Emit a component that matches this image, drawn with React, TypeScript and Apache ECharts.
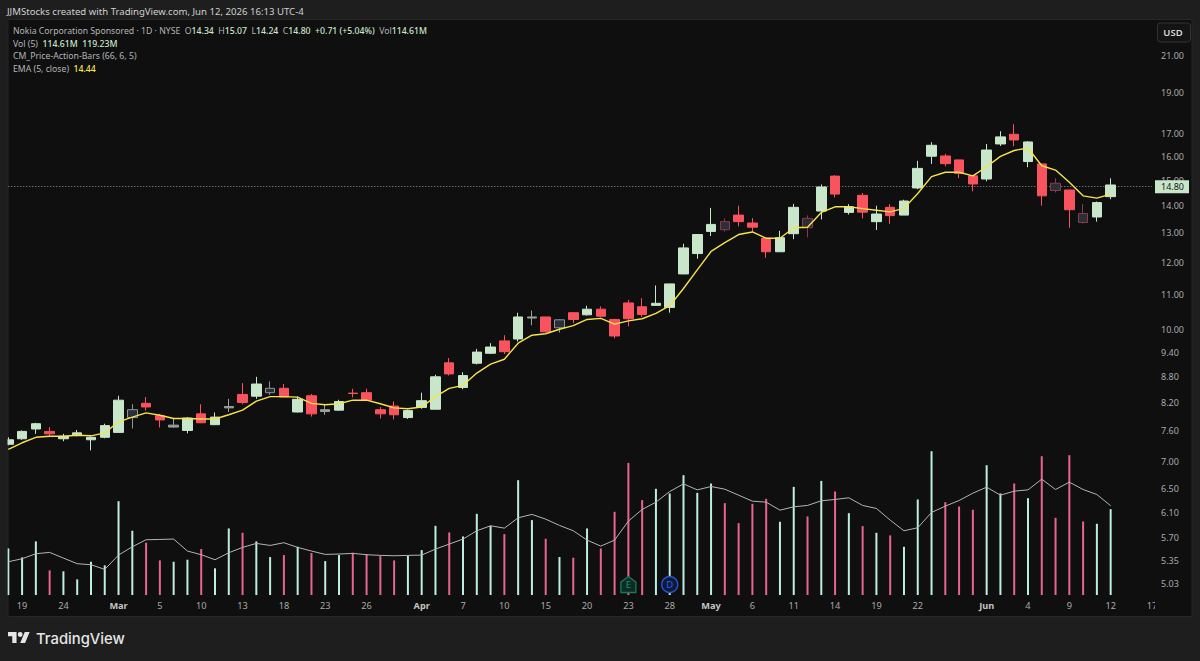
import React, { useEffect, useRef } from "react";
import * as echarts from "echarts";

const dates = [
  "02-18","02-19","02-20","02-23","02-24","02-25","02-26","02-27","03-02","03-03","03-04","03-05","03-06","03-09","03-10","03-11","03-12","03-13","03-16","03-17","03-18","03-19","03-20","03-23","03-24","03-25","03-26","03-27","03-30","03-31",
  "04-01","04-02","04-06","04-07","04-08","04-09","04-10","04-13","04-14","04-15","04-16","04-17","04-20","04-21","04-22","04-23","04-24","04-27","04-28","04-29","04-30",
  "05-01","05-04","05-05","05-06","05-07","05-08","05-11","05-12","05-13","05-14","05-15","05-18","05-19","05-20","05-21","05-22","05-26","05-27","05-28","05-29",
  "06-01","06-02","06-03","06-04","06-05","06-08","06-09","06-10","06-11","06-12","06-15","06-16","06-17",
];
const xTicks: Record<string, string> = {
  "02-19":"19","02-24":"24","03-02":"Mar","03-05":"5","03-10":"10","03-13":"13","03-18":"18","03-23":"23","03-26":"26",
  "04-01":"Apr","04-07":"7","04-10":"10","04-15":"15","04-20":"20","04-23":"23","04-28":"28",
  "05-01":"May","05-06":"6","05-11":"11","05-14":"14","05-19":"19","05-22":"22",
  "06-01":"Jun","06-04":"4","06-09":"9","06-12":"12","06-17":"17",
};
const monthLabels = ["Mar","Apr","May","Jun"];
const priceTicks = [21,19,17,16,15,14,13,12,11,10,9.4,8.8,8.2,7.6,7,6.5,6.1,5.7,5.35,5.03];

const opens = [7.33,7.44,7.64,7.59,7.44,7.52,7.42,7.47,7.57,7.88,8.19,7.92,7.68,7.61,7.96,7.73,8.09,8.39,8.35,8.43,8.53,8.00,8.36,8.01,8.04,8.42,8.43,8.05,8.13,7.88,8.10,8.06,9.14,8.55,9.13,9.38,9.70,9.75,10.32,10.35,10.05,10.47,10.41,10.57,10.28,10.75,10.64,10.68,10.62,11.63,12.29,13.05,13.40,13.64,13.35,12.81,12.35,12.97,13.52,13.79,15.16,13.74,14.39,13.40,13.93,13.64,14.68,16.00,16.01,15.84,15.17,15.04,16.54,16.98,15.77,15.67,14.87,14.60,13.70,13.57,14.34];
const closes = [7.42,7.59,7.75,7.54,7.49,7.56,7.47,7.71,8.26,8.05,8.11,7.83,7.72,7.87,7.77,7.89,8.12,8.21,8.63,8.53,8.33,8.28,7.96,8.05,8.23,8.41,8.26,7.96,7.94,8.03,8.25,8.80,8.87,8.83,9.41,9.54,9.42,10.35,10.35,9.94,10.27,10.28,10.57,10.37,9.83,10.30,10.42,10.74,11.32,12.48,12.94,13.30,13.11,13.40,13.20,12.35,12.83,13.93,13.18,14.72,14.44,13.95,13.75,13.68,13.62,14.17,15.48,16.48,15.68,15.27,14.84,16.27,16.86,16.72,16.63,14.37,14.58,13.84,13.37,14.11,14.80];
const lows = [7.31,7.42,7.54,7.49,7.39,7.49,7.21,7.45,7.56,7.65,8.03,7.67,7.67,7.55,7.76,7.72,8.00,8.17,8.29,8.38,8.33,7.99,7.90,7.94,8.03,8.32,8.25,7.86,7.84,7.85,8.07,8.06,8.83,8.51,9.10,9.36,9.36,9.68,10.12,9.92,9.92,10.18,10.39,10.34,9.77,10.09,10.35,10.68,10.47,11.62,12.12,12.89,13.04,13.23,13.03,12.15,12.35,12.78,12.84,13.48,14.31,13.66,13.52,13.10,13.32,13.64,14.63,15.67,15.57,15.08,14.55,14.95,16.45,16.44,15.53,13.99,14.50,13.18,13.33,13.40,14.24];
const highs = [7.47,7.61,7.77,7.68,7.54,7.62,7.49,7.75,8.36,8.17,8.33,7.96,7.85,7.89,8.17,7.99,8.29,8.65,8.80,8.69,8.63,8.34,8.40,8.17,8.27,8.52,8.52,8.11,8.23,8.05,8.43,8.85,9.26,8.91,9.49,9.64,9.85,10.47,10.53,10.35,10.29,10.47,10.67,10.65,10.30,10.84,10.89,11.27,11.32,12.62,12.94,13.91,13.52,13.99,13.53,12.84,13.07,14.06,13.63,14.82,15.20,14.05,14.48,13.99,14.05,14.22,15.80,16.62,16.10,15.84,15.17,16.54,17.12,17.45,16.67,15.67,15.07,14.60,14.05,14.15,15.07];
const ema5 = [7.23,7.36,7.47,7.49,7.49,7.51,7.50,7.56,7.79,7.89,7.98,7.93,7.86,7.86,7.85,7.85,7.94,8.04,8.24,8.34,8.34,8.33,8.19,8.16,8.18,8.26,8.26,8.18,8.09,8.07,8.11,8.34,8.53,8.60,8.89,9.11,9.23,9.64,9.85,9.89,10.01,10.11,10.28,10.31,10.15,10.24,10.30,10.45,10.67,11.18,11.76,12.36,12.66,12.94,13.03,12.81,12.81,13.18,13.20,13.74,13.95,13.95,13.88,13.82,13.76,13.89,14.46,15.14,15.32,15.32,15.17,15.55,15.99,16.25,16.36,15.59,15.41,14.91,14.37,14.28,14.44];
const volumes = [62.2,50.2,71.6,32.9,31.6,20.9,44.4,39.6,125.3,85.8,69.8,46.2,44.4,47.1,61.3,35.6,88.9,83.1,71.6,50.7,53.3,64.4,56,45.3,53.3,56.4,54.7,52,46.2,52.4,60,92.4,83.6,78.2,108.4,92.4,81.3,153.3,100,75.1,50.7,49.8,88.9,62.2,111.1,176.4,126.7,141.8,135.6,160,136.4,148.9,122.7,96,121.8,128.4,97.8,144.4,104.9,152.4,138.2,109.3,92,83.1,79.6,64.4,127.6,192,124,118.2,113.8,173.3,135.6,148.9,129.3,185.3,103.1,186.7,98.2,95.1,114.61];
const volumeMA = [44.4,48.4,55.1,56.9,49.3,41.8,40.4,34.2,53.3,64.4,73.8,74.2,74.7,58.7,53.8,47.1,56.4,63.6,68.9,66.2,69.8,63.6,58.7,54.2,54.7,55.6,53.8,52.9,52.4,52.9,53.3,61.3,68,74.7,85.8,92.4,89.3,103.1,107.6,101.3,92.9,85.8,73.3,65.3,73.3,98.7,114.2,124,138.2,148.4,140.4,144.9,141.3,133.3,125.3,124,113.3,117.8,119.6,125.8,127.6,129.8,119.6,115.6,100,85.8,89.8,110.2,118.7,126.2,136,144,133.3,138.7,140.4,154.7,140.9,150.7,140.9,134.2,119.23];
const insideBars = [9,19,40,52,58,76,78];
const greyDoji = [12,16,23,38];
const lastClose = 14.8;
const maxPrice = 23.08;
const minPrice = 4.859;
const maxVolume = 207;

const GREEN = "#c8e6c9";
const RED = "#f9535f";
const VOL_GREEN = "#bdeee2";
const VOL_RED = "#ea6490";
const PANEL = "#0f0f0f";
const FRAME = "#1e1e1e";
const FONT = "'Noto Sans', sans-serif";
const LEGEND_SIZE = 8.7;

const LogoPath = "M14 22H7V11H0V4h14v18zM28 22h-8l7.5-18h8L28 22zM24 8a4 4 0 1 1-8 0 4 4 0 0 1 8 0z";
echarts.graphic.registerShape("tvLogoPath", (echarts.graphic as any).extendPath(LogoPath, {}));

function candleItem(i: number) {
  const value = [opens[i], closes[i], lows[i], highs[i]].map(Math.log);
  const up = closes[i] >= opens[i];
  let fill = up ? GREEN : RED;
  let stroke = fill;
  if (insideBars.includes(i)) {
    fill = "#2a2e39";
    stroke = up ? "#8f9499" : "#8a3c4a";
  } else if (greyDoji.includes(i)) {
    fill = "#9aa39b";
    stroke = "#9aa39b";
  }
  return { value, itemStyle: { color: fill, color0: fill, borderColor: stroke, borderColor0: stroke, borderWidth: 1 } };
}

const lab = (t: string) => `{l|${t}}`;
const val = (t: string) => `{v|${t}}`;

export default function App() {
  const ref = useRef<HTMLDivElement>(null);
  useEffect(() => {
    document.body.style.margin = "0";
    document.body.style.background = FRAME;
    const chart = echarts.init(ref.current!, undefined, { renderer: "svg" });
    const legendRich = {
      l: { fill: "#b2b5b8", fontSize: LEGEND_SIZE, fontFamily: FONT },
      v: { fill: GREEN, fontSize: LEGEND_SIZE, fontFamily: FONT, fontWeight: 500 },
      y: { fill: "#f7e34a", fontSize: LEGEND_SIZE, fontFamily: FONT, fontWeight: 500 },
    };
    const legendText = (y: number, text: string) => ({
      type: "text",
      x: 13,
      y,
      z: 50,
      style: { text, rich: legendRich, fontFamily: FONT, fontSize: LEGEND_SIZE, fill: "#b2b5b8", verticalAlign: "middle" },
    });
    chart.setOption({
      animation: false,
      backgroundColor: FRAME,
      textStyle: { fontFamily: FONT },
      grid: [
        { left: 8.3, width: 1143.7, top: 21, height: 575 },
        { left: 8.3, width: 1143.7, top: 440, height: 155 },
      ],
      xAxis: [
        { type: "category", gridIndex: 0, data: dates, boundaryGap: false, show: false },
        {
          type: "category",
          gridIndex: 1,
          data: dates,
          boundaryGap: false,
          axisLine: { show: false },
          axisTick: { show: false },
          splitLine: { show: false },
          axisLabel: {
            interval: 0,
            margin: 6,
            color: "#a9a9a9",
            fontSize: 9.2,
            fontFamily: FONT,
            formatter: (d: string) => {
              const t = xTicks[d];
              if (!t) return "";
              return monthLabels.includes(t) ? `{m|${t}}` : t;
            },
            rich: { m: { color: "#c4c4c4", fontWeight: 700, fontSize: 9.2, fontFamily: FONT } },
          },
        },
      ],
      yAxis: [
        {
          type: "value",
          gridIndex: 0,
          position: "right",
          min: Math.log(minPrice),
          max: Math.log(maxPrice),
          splitLine: { show: false },
          axisLine: { show: false },
          axisTick: { show: false },
          axisLabel: {
            margin: 9,
            color: "#a9a9a9",
            fontSize: 9,
            fontFamily: FONT,
            customValues: priceTicks.map(Math.log),
            formatter: (v: number) => Math.exp(v).toFixed(2),
          },
        },
        {
          type: "value",
          gridIndex: 1,
          min: 0,
          max: maxVolume,
          show: false,
        },
      ],
      series: [
        {
          type: "bar",
          name: "Vol",
          xAxisIndex: 1,
          yAxisIndex: 1,
          barWidth: 2,
          clip: false,
          silent: true,
          data: volumes.map((v, i) => ({
            value: v,
            itemStyle: { color: closes[i] >= opens[i] ? VOL_GREEN : VOL_RED },
          })),
          markPoint: {
            silent: true,
            animation: false,
            data: [
              {
                coord: [dates[45], 14],
                symbol: "path://M8 0L16 6V17H0V6Z",
                symbolSize: [15, 16],
                itemStyle: { color: "#0f2a22", borderColor: "#12795f", borderWidth: 1.4 },
                label: { show: true, position: "inside", formatter: "E", color: "#14906f", fontSize: 9.5, fontFamily: FONT },
              },
              {
                coord: [dates[48], 14],
                symbol: "circle",
                symbolSize: 16,
                itemStyle: { color: "#0f1a3a", borderColor: "#2a55d8", borderWidth: 1.4 },
                label: { show: true, position: "inside", formatter: "D", color: "#2f5fe8", fontSize: 9.5, fontFamily: FONT },
              },
            ],
          },
        },
        {
          type: "line",
          name: "Vol MA",
          xAxisIndex: 1,
          yAxisIndex: 1,
          data: volumeMA,
          showSymbol: false,
          silent: true,
          lineStyle: { color: "#b4b4b4", width: 1 },
          z: 4,
        },
        {
          type: "candlestick",
          name: "NOK",
          xAxisIndex: 0,
          yAxisIndex: 0,
          barWidth: 10,
          clip: true,
          silent: true,
          data: opens.map((_, i) => candleItem(i)),
          markLine: {
            silent: true,
            animation: false,
            symbol: "none",
            lineStyle: { color: "#8d9d92", type: [1, 2], width: 1 },
            label: {
              show: true,
              position: "end",
              distance: 3,
              formatter: lastClose.toFixed(2),
              color: "#131722",
              backgroundColor: GREEN,
              fontSize: 9,
              fontFamily: FONT,
              padding: [2, 5, 2, 6],
            },
            data: [{ yAxis: Math.log(lastClose) }],
          },
          z: 5,
        },
        {
          type: "line",
          name: "EMA (5, close)",
          xAxisIndex: 0,
          yAxisIndex: 0,
          data: ema5.map(Math.log),
          showSymbol: false,
          silent: true,
          lineStyle: { color: "#f7e34a", width: 1.4 },
          z: 6,
        },
      ],
      graphic: [
        {
          type: "rect",
          z: -10,
          shape: { x: 8, y: 19.5, width: 1184, height: 597 },
          style: { fill: PANEL, stroke: "#272727", lineWidth: 1 },
        },
        { type: "rect", z: 40, shape: { x: 0, y: 20, width: 7.5, height: 596 }, style: { fill: FRAME } },
        { type: "rect", z: 40, shape: { x: 1155, y: 598, width: 36, height: 17 }, style: { fill: PANEL } },
        {
          type: "text",
          x: 7,
          y: 11,
          z: 50,
          style: { text: "JJMStocks created with TradingView.com, Jun 12, 2026 16:13 UTC-4", fill: "#d0d0d0", fontSize: 9.6, fontFamily: FONT, verticalAlign: "middle" },
        },
        legendText(31, lab("Nokia Corporation Sponsored · 1D · NYSE  O") + val("14.34") + lab("  H") + val("15.07") + lab("  L") + val("14.24") + lab("  C") + val("14.80") + val("  +0.71 (+5.04%)") + lab("  Vol") + val("114.61M")),
        legendText(44, lab("Vol (5)  ") + val("114.61M") + lab("  ") + val("119.23M")),
        legendText(56, lab("CM_Price-Action-Bars (66, 6, 5)")),
        legendText(69, lab("EMA (5, close)  ") + "{y|14.44}"),
        {
          type: "rect",
          z: 50,
          shape: { x: 1157.5, y: 23, width: 33, height: 19, r: 3 },
          style: { fill: "#141414", stroke: "#333333", lineWidth: 1 },
        },
        {
          type: "text",
          z: 51,
          x: 1173,
          y: 32.5,
          style: { text: "USD", fill: "#d8d8d8", fontSize: 9.5, fontWeight: 600, fontFamily: FONT, align: "center", verticalAlign: "middle" },
        },
        { type: "tvLogoPath", x: 8, y: 629.6, scaleX: 0.61, scaleY: 0.61, z: 50, style: { fill: "#e6e6e6" } },
        {
          type: "text",
          x: 36,
          y: 638.5,
          z: 50,
          style: { text: "TradingView", fill: "#e6e6e6", fontSize: 14.8, fontWeight: 500, fontFamily: "Inter, sans-serif", verticalAlign: "middle" },
        },
      ],
    });
    return () => chart.dispose();
  }, []);
  return <div ref={ref} style={{ position: "fixed", left: 0, top: 0, width: 1200, height: 661 }} />;
}
